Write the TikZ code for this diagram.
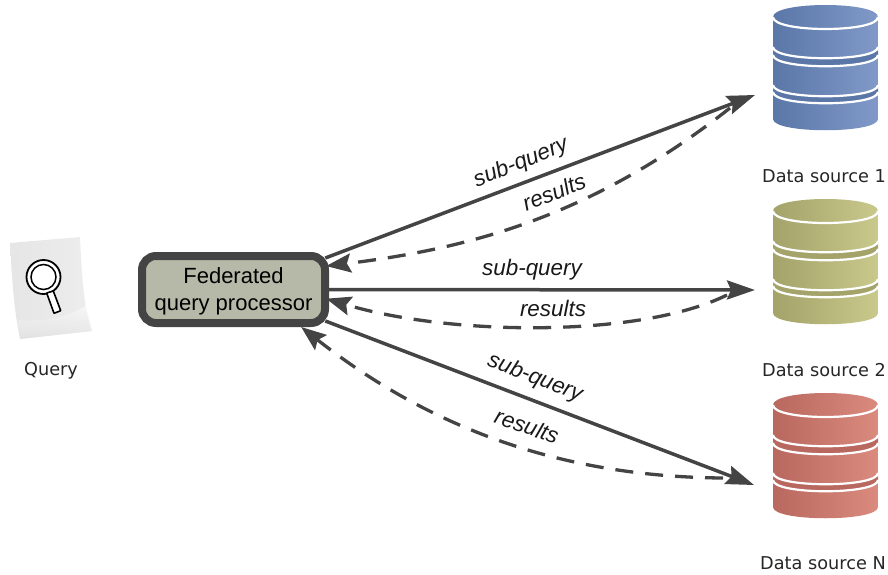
\documentclass[tikz,border=0pt]{standalone}
\usepackage{fontspec}
\setmainfont{Liberation Sans}
\newfontfamily\srcfont{DejaVu Sans}
\usetikzlibrary{arrows.meta}
\definecolor{linegray}{HTML}{444444}
\definecolor{procfill}{HTML}{B7B9A8}
\definecolor{blueL}{HTML}{5A77A8}
\definecolor{blueR}{HTML}{8099C8}
\definecolor{oliveL}{HTML}{A3A36A}
\definecolor{oliveR}{HTML}{C9C98C}
\definecolor{redL}{HTML}{B9685F}
\definecolor{redR}{HTML}{DB8A7E}

\begin{document}
\begin{tikzpicture}[x=1pt,y=-1pt,
						proc/.style={draw=linegray,line width=8pt,fill=procfill,rounded corners=14pt,minimum width=183pt,minimum height=67pt,inner sep=0pt,align=center,font=\fontsize{22}{27}\selectfont},
						srclabel/.style={font=\srcfont\fontsize{17.7}{20}\selectfont,text=black!85},
						edgelabel/.style={font=\fontsize{22.4}{26}\selectfont\itshape,text=black!90},
						subq/.style={draw=linegray,line width=3.5pt,-{Stealth[length=28pt,width=19pt,inset=4pt]}},
						res/.style={draw=linegray,line width=3.3pt,dash pattern=on 18pt off 12pt,-{Stealth[length=25pt,width=19pt,inset=4pt]}},
						band/.style={white,line width=2.2pt}]
		\useasboundingbox (0,0) rectangle (888,575);

		\shade[left color=black!10,right color=black!7] (10,243) -- (80,237) .. controls (82,280) and (84,310) .. (92,331) -- (20,339) .. controls (14,310) and (12,280) .. (10,243) -- cycle;
		\shade[top color=black!0,bottom color=black!13,opacity=.6] (18,320) .. controls (40,322) and (70,318) .. (86,305) -- (92,331) -- (20,339) -- cycle;
		\draw[black,line width=1.8pt,fill=white] (43.5,277) circle (17);
		\draw[black,line width=1.5pt] (43.5,277) circle (12.5);
		\draw[black,line width=1.6pt,fill=white,rounded corners=.5pt] (46.7,293) -- (53.3,291) -- (60.7,310.7) -- (54,313.3) -- cycle;

		\foreach \dy/\cl/\cr in {0/blueL/blueR,194/oliveL/oliveR,388/redL/redR} {
			\begin{scope}[shift={(0,\dy)}]
				\shade[left color=\cl,right color=\cr] (773,17) .. controls (773,1) and (878,1) .. (878,17) -- (878,119) .. controls (878,134) and (773,134) .. (773,119) -- cycle;
				\fill[\cl] (773,47) .. controls (773,62) and (878,62) .. (878,47) -- (878,55) .. controls (878,70) and (773,70) .. (773,55) -- cycle;
				\fill[\cl] (773,85) .. controls (773,100) and (878,100) .. (878,85) -- (878,92) .. controls (878,107) and (773,107) .. (773,92) -- cycle;
				\draw[band] (773,17) .. controls (773,33) and (878,33) .. (878,17);
				\draw[band] (773,47) .. controls (773,62) and (878,62) .. (878,47);
				\draw[band] (773,55) .. controls (773,70) and (878,70) .. (878,55);
				\draw[band] (773,85) .. controls (773,100) and (878,100) .. (878,85);
				\draw[band] (773,92) .. controls (773,107) and (878,107) .. (878,92);
			\end{scope}
		}

		\node[proc]								(fed)	at (233.5,289.5)	{\rule{0pt}{20pt}Federated\\query processor};
		\coordinate								(ds1)	at (755,95);
		\coordinate								(ds2)	at (755,290);
		\coordinate								(dsN)	at (754,485);
		\coordinate								(back1)	at (730,108);
		\coordinate								(back2)	at (727,295);
		\coordinate								(backN)	at (723,478);

		\node[srclabel]							(query)	at (51,371)		{Query};
		\node[srclabel]							(name1)	at (824,176)	{Data source 1};
		\node[srclabel]							(name2)	at (824,370)	{Data source 2};
		\node[srclabel]							(nameN)	at (823,563)	{Data source N};

		\node[edgelabel,rotate=22]				(sq1)	at (521,163)	{sub-query};
		\node[edgelabel,rotate=22]				(rs1)	at (554,192)	{results};
		\node[edgelabel]						(sq2)	at (532,270)	{sub-query};
		\node[edgelabel]						(rs2)	at (553,308)	{results};
		\node[edgelabel,rotate=-21]				(sqN)	at (535,378)	{sub-query};
		\node[edgelabel,rotate=-19]				(rsN)	at (527,426)	{results};

		\draw[subq,shorten <=-4pt] (fed.19) -- (ds1);
		\draw[subq] (fed.east) -- (ds2);
		\draw[subq,shorten <=-4pt] (fed.-19) -- (dsN);
		\draw[res,shorten >=-3pt] (back1) .. controls (595,214) and (475,248) .. (fed.14);
		\draw[res,shorten >=-3pt] (back2) .. controls (640,338) and (450,336) .. (fed.-6);
		\draw[res] (backN) .. controls (590,477) and (450,444) .. (fed.-29);
	\end{tikzpicture}
\end{document}
